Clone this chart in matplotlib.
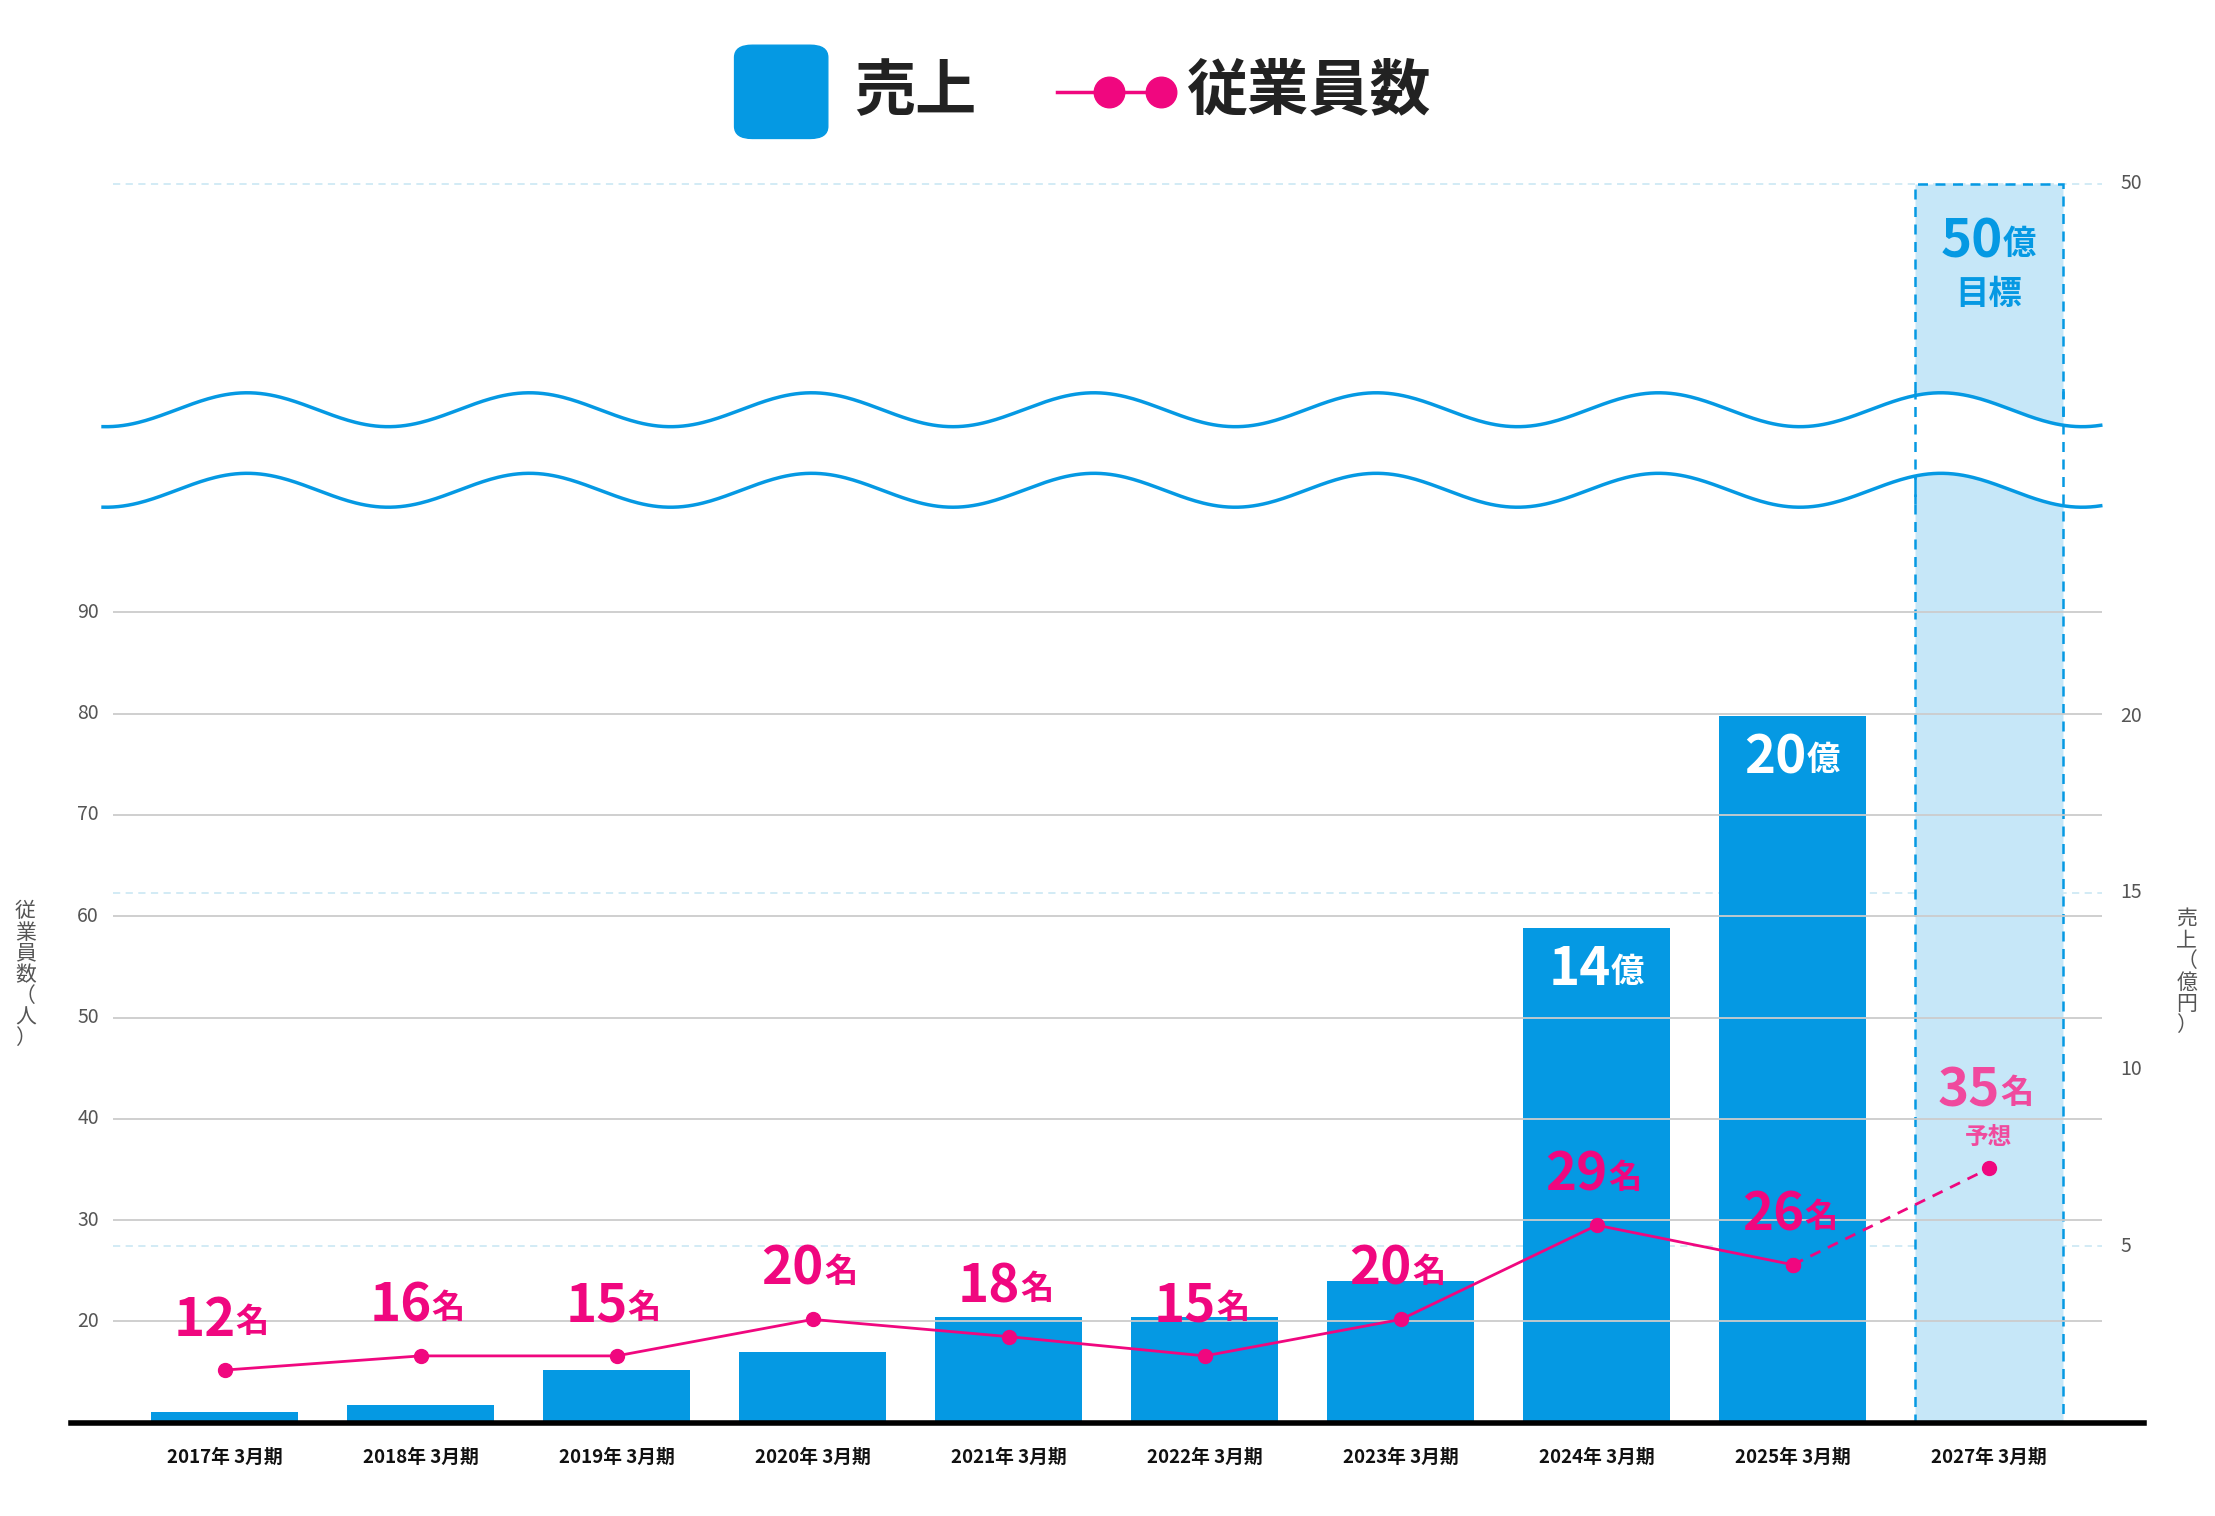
import numpy as np
import matplotlib.pyplot as plt
from matplotlib.patches import FancyBboxPatch
from matplotlib.lines import Line2D

plt.rcParams['font.family'] = ['Noto Sans CJK JP', 'DejaVu Sans']

years = ["2017年 3月期", "2018年 3月期", "2019年 3月期", "2020年 3月期", "2021年 3月期",
         "2022年 3月期", "2023年 3月期", "2024年 3月期", "2025年 3月期", "2027年 3月期"]
sales = [0.3, 0.5, 1.5, 2.0, 3.0, 3.0, 4.0, 14, 20]        # 億円
sales_labels = {7: "14", 8: "20"}
sales_target = 50
employees = [15.2, 16.6, 16.6, 20.2, 18.5, 16.6, 20.2, 29.5, 25.6, 35.1]
emp_labels = ["12", "16", "15", "20", "18", "15", "20", "29", "26", "35"]

BLUE = "#0599e3"
LIGHT = "#c6e7f8"
PINK = "#f0077f"
PINK2 = "#f04a9e"
GRAY = "#555555"

W, H = 1568, 1073
fig = plt.figure(figsize=(22.15, 15.16), dpi=100)
ax = fig.add_axes([80 / W, 1 - 1007 / H, (1488 - 80) / W, (1007 - 100) / H])
px_per_sale = 25.0
px_per_emp = 7.17
top_sale = (1007 - 100) / px_per_sale
ax.set_ylim(0, top_sale)
ax.set_xlim(-(159 - 80) / 138.8, 9 + (1488 - 1408) / 138.8)
ax2 = ax.twinx()
ax2.set_ylim(10, 10 + top_sale * px_per_sale / px_per_emp)
ax2.set_xlim(ax.get_xlim())
for a in (ax, ax2):
    for s in a.spines.values():
        s.set_visible(False)
    a.set_xticks([])
    a.set_yticks([])

broken_50 = (1007 - 130) / px_per_sale
x = np.arange(len(years))

# gridlines
for e in range(20, 100, 10):
    ax2.axhline(e, color="#cccccc", lw=1.3, zorder=0)
    ax2.text(-0.64, e, str(e), ha="right", va="center", fontsize=14, color=GRAY)
for v in [5, 15, broken_50]:
    ax.axhline(v, color="#cfe9f5", lw=1.3, ls=(0, (4, 3)), zorder=0)
for v, t in [(5, "5"), (10, "10"), (15, "15"), (20, "20"), (broken_50, "50")]:
    ax.text(9.67, v, t, ha="left", va="center", fontsize=14, color=GRAY)

# bars
ax.bar(x[:9], sales, width=0.75, color=BLUE, zorder=2)
ax.bar(x[9], broken_50, width=0.75, color=LIGHT, edgecolor=BLUE, lw=1.8,
       ls=(0, (4, 3)), zorder=2)

# waves
xs = np.linspace(-0.62, 9.57, 800)
for c in [28.68, 26.4]:
    ys = c + 0.48 * np.cos(2 * np.pi * (xs - 0.115) / 1.44)
    ax.plot(xs, ys, color=BLUE, lw=2.5, zorder=4, clip_on=False)
ys1 = 28.68 + 0.48 * np.cos(2 * np.pi * (xs - 0.115) / 1.44)
ys2 = 26.4 + 0.48 * np.cos(2 * np.pi * (xs - 0.115) / 1.44)
ax.fill_between(xs, ys2, ys1, color="white", zorder=3)
for xe in [9 - 0.375, 9 + 0.375]:
    ax.plot([xe, xe], [26.0, 29.2], color=BLUE, lw=1.8, ls=(0, (4, 3)), zorder=3.5)

# sales labels
for i, t in sales_labels.items():
    ax.annotate(t, (i, sales[i]), xytext=(10, -30), textcoords="offset points",
                ha="right", va="center", fontsize=38, fontweight="bold", color="white", zorder=5)
    ax.annotate("億", (i, sales[i]), xytext=(10, -32), textcoords="offset points",
                ha="left", va="center", fontsize=24, fontweight="bold", color="white", zorder=5)
ax.annotate(str(sales_target), (9, broken_50), xytext=(10, -42), textcoords="offset points",
            ha="right", va="center", fontsize=38, fontweight="bold", color=BLUE, zorder=5)
ax.annotate("億", (9, broken_50), xytext=(10, -44), textcoords="offset points",
            ha="left", va="center", fontsize=24, fontweight="bold", color=BLUE, zorder=5)
ax.annotate("目標", (9, broken_50), xytext=(0, -80), textcoords="offset points",
            ha="center", va="center", fontsize=24, fontweight="bold", color=BLUE, zorder=5)

# employees line
ax2.plot(x[:9], employees[:9], color=PINK, lw=2, marker="o", ms=10, zorder=6)
ax2.plot(x[8:], employees[8:], color=PINK, lw=2, ls=(0, (4, 3)), marker="o", ms=10, zorder=6)
for i, t in enumerate(emp_labels):
    col = PINK2 if i == 9 else PINK
    dy = 56 if i == 9 else 36
    ax2.annotate(t, (i, employees[i]), xytext=(8, dy), textcoords="offset points",
                 ha="right", va="center", fontsize=38, fontweight="bold", color=col, zorder=7)
    ax2.annotate("名", (i, employees[i]), xytext=(8, dy - 2), textcoords="offset points",
                 ha="left", va="center", fontsize=24, fontweight="bold", color=col, zorder=7)
ax2.annotate("予想", (9, employees[9]), xytext=(0, 23), textcoords="offset points",
             ha="center", va="center", fontsize=17, fontweight="bold", color=PINK2, zorder=7)

# x labels
for i, t in enumerate(years):
    ax.text(i, -0.7, t, ha="center", va="top", fontsize=13.5, fontweight="bold", color="#111111")

# baseline
fig.add_artist(Line2D([50 / W, 1518 / W], [1 - 1007 / H] * 2, color="black", lw=4))

# axis titles
fig.text(18 / W, 1 - 690 / H, "従\n業\n員\n数\n（\n人\n）", ha="center", va="center",
         fontsize=15, color=GRAY, linespacing=0.95)
fig.text(1548 / W, 1 - 688 / H, "売\n上\n（\n億\n円\n）", ha="center", va="center",
         fontsize=15, color=GRAY, linespacing=0.95)

# legend
fig.add_artist(FancyBboxPatch((520 / W, 1 - 98 / H), 66 / W, 66 / H,
                              boxstyle="round,pad=0,rounding_size=0.008",
                              transform=fig.transFigure, color=BLUE))
fig.text(605 / W, 1 - 65 / H, "売上", ha="left", va="center", fontsize=44,
         fontweight="bold", color="#222222")
fig.add_artist(Line2D([748 / W, 822 / W], [1 - 65 / H] * 2, color=PINK, lw=2.5,
                      marker="o", ms=22, markevery=[1]))
fig.add_artist(Line2D([785 / W], [1 - 65 / H], color=PINK, marker="o", ms=22))
fig.text(840 / W, 1 - 65 / H, "従業員数", ha="left", va="center", fontsize=44,
         fontweight="bold", color="#222222")

fig.savefig("out.png", dpi=100)
